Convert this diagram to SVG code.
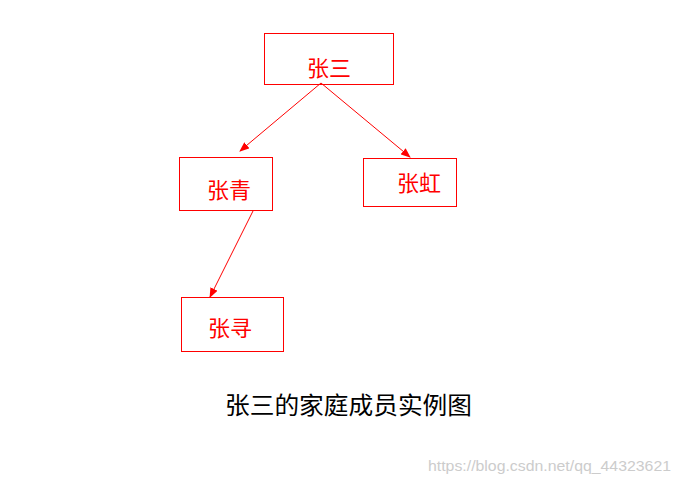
<svg xmlns="http://www.w3.org/2000/svg" width="679" height="483" viewBox="0 0 679 483">
<style>
rect{fill:#fff;stroke:#f00;stroke-width:1}
.t{fill:#f00;font-family:"Liberation Serif","Noto Sans CJK SC",serif;font-size:22px}
.c{stroke:#f00;stroke-width:1;fill:none}
</style>
<defs><marker id="a" markerWidth="10" markerHeight="8" refX="9" refY="4" orient="auto" markerUnits="userSpaceOnUse"><path d="M0,0L10,4L0,8Z" fill="#f00"/></marker></defs>
<rect x="0" y="0" width="679" height="483" style="stroke:none"/>
<g id="n1"><rect x="264.5" y="33.5" width="129" height="51"/><text class="t" x="307" y="76">张三</text></g>
<g id="n2"><rect x="179.5" y="157.5" width="93" height="53"/><text class="t" x="207" y="198">张青</text></g>
<g id="n3"><rect x="363.5" y="158.5" width="93" height="48"/><text class="t" x="397" y="191">张虹</text></g>
<g id="n4"><rect x="181.5" y="297.5" width="102" height="54"/><text class="t" x="208" y="336">张寻</text></g>
<g id="edges">
<line class="c" x1="321" y1="83" x2="240" y2="151" marker-end="url(#a)"/>
<line class="c" x1="321" y1="83" x2="410" y2="157" marker-end="url(#a)"/>
<line class="c" x1="253" y1="211" x2="210" y2="297" marker-end="url(#a)"/>
</g>
<text x="225" y="414" textLength="247" lengthAdjust="spacingAndGlyphs" style="font-family:'Liberation Serif','Noto Sans CJK SC',serif;font-size:24px;fill:#000">张三的家庭成员实例图</text>
<text x="428" y="471" textLength="243" lengthAdjust="spacingAndGlyphs" style="font-family:'Liberation Sans',sans-serif;font-size:15px;fill:#ccc">https://blog.csdn.net/qq_44323621</text>
</svg>
